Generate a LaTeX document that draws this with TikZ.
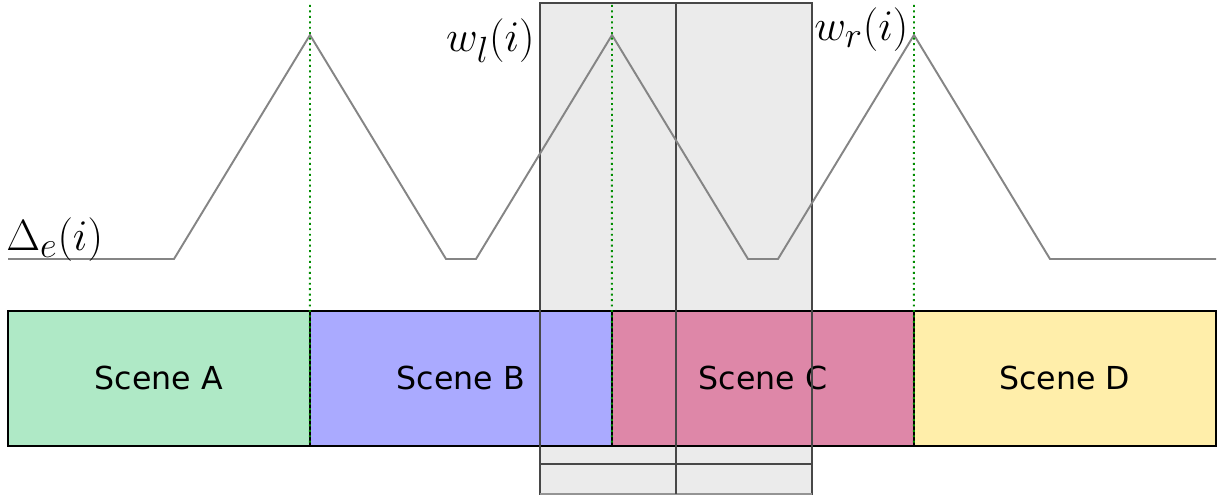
\documentclass[tikz,border=0pt]{standalone}
\usepackage{fontspec}
\setsansfont{DejaVu Sans}
\usepackage{tikz}
\usetikzlibrary{positioning}

\definecolor{scA}{HTML}{AFE9C6}
\definecolor{scB}{HTML}{AAAAFF}
\definecolor{scC}{HTML}{DE87A8}
\definecolor{scD}{HTML}{FFEEAA}
\definecolor{winfill}{HTML}{EBEBEB}

\begin{document}
\begin{tikzpicture}[
    x=0.02cm, y=-0.02cm,
    scene/.style={draw=black, line width=1.1pt, outer sep=0pt, inner sep=0pt,
                  minimum width=6.04cm, minimum height=2.7cm,
                  font=\sffamily\fontsize{18}{22}\selectfont},
    curve/.style={draw=black!48, line width=1.1pt},
    marker/.style={draw=green!55!black, dotted, line width=1.1pt},
    win/.style={draw=black!72, line width=1.1pt},
    lbl/.style={inner sep=0pt, font=\fontsize{27.5}{32}\selectfont},
]
  \useasboundingbox (0,0) rectangle (1225,500);

  % ---- window behind the scenes ----
  \fill[winfill] (540,3) rectangle (812,494);

  % ---- Scenes ----
  \node[scene, fill=scA, anchor=north west] (sa) at (8,311) {Scene A};
  \node[scene, fill=scB, right=0pt of sa] (sb) {Scene B};
  \node[scene, fill=scC, right=0pt of sb] (sc) {Scene C};
  \node[scene, fill=scD, right=0pt of sc] (sd) {Scene D};

  % ---- window outline ----
  \draw[win] (540,3) rectangle (812,494);
  \draw[draw=black!42, line width=1.1pt] (540,494) -- (812,494);
  \draw[win] (540,464) -- (812,464);
  \draw[win] (676,3) -- (676,494);

  % ---- Delta curve ----
  \coordinate (c0) at (8,259);
  \coordinate (pa) at (310,35);
  \coordinate (pb) at (612,35);
  \coordinate (pc) at (914,35);
  \coordinate (c9) at (1216,259);
  \draw[curve] (c0) -- (174,259) -- (pa) -- (446,259) -- (476,259)
    -- (pb) -- (748,259) -- (778,259) -- (pc) -- (1050,259) -- (c9);

  % ---- Scene borders ----
  \coordinate (ta) at (310,5);
  \coordinate (tb) at (612,5);
  \coordinate (tc) at (914,5);
  \draw[marker] (ta) -- (sa.south east);
  \draw[marker] (tb) -- (sb.south east);
  \draw[marker] (tc) -- (sc.south east);

  % ---- Labels ----
  \node[lbl, anchor=base west] (de) at (6,251) {$\Delta_e(i)$};
  \node[lbl, anchor=base east] (wl) at (535,52) {$w_l(i)$};
  \node[lbl, anchor=base west] (wr) at (814,41) {$w_r(i)$};

\end{tikzpicture}
\end{document}
